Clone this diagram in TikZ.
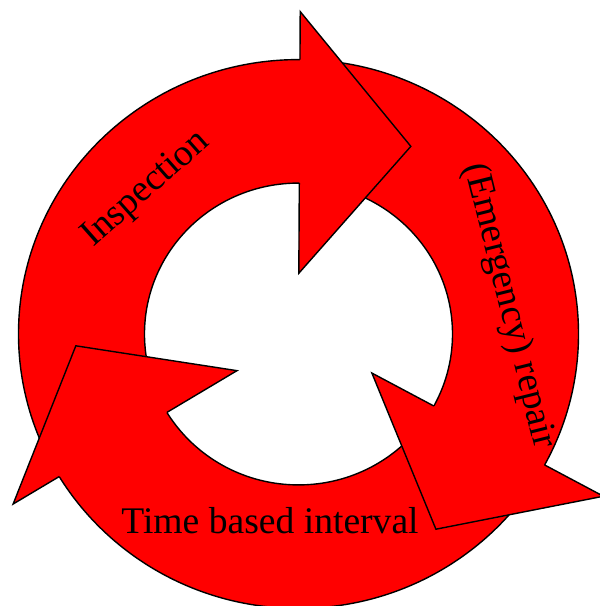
\documentclass[tikz,border=0pt]{standalone}
\usepackage{fontspec}
\setmainfont{Liberation Serif}
\begin{document}
\begin{tikzpicture}[x=1pt, y=1pt,
  ring/.style={fill=red, even odd rule},
  edge/.style={draw=black, line width=1.4pt, line join=miter},
  head/.style={fill=red},
  lbl/.style={font=\fontsize{37.6}{40}\selectfont, inner sep=0pt, anchor=base}
]
\useasboundingbox (0,0) rectangle (600,606);
\clip (0,0) rectangle (600,606);
\begin{scope}[shift={(298.5,272)}, yscale=0.98]
  \fill[ring] (0,0) circle[radius=280] (0,0) circle[radius=154];
  \draw[edge] (0,0) circle[radius=280];
  \draw[edge] (0,0) circle[radius=154];
  % arrow heads: base angle / inner corner / outer corner / tip angle / tip radius
  \foreach \b/\ri/\ro/\ta/\tr in {89.7/62/329/59.6/222, -28.5/83.5/347/-55.4/242, 211.3/72/334/183.1/223}{
    \fill[head] (\b:154) -- (\b:\ri) -- (\ta:\tr) -- (\b:\ro) -- (\b:280) -- cycle;
    \draw[edge] (\b:154) -- (\b:\ri) -- (\ta:\tr) -- (\b:\ro) -- (\b:280);
  }
\end{scope}
\node[lbl, rotate=41.5] (insp) at (152,410) {Inspection};
\node[lbl, rotate=-76] (repair) at (500,298) {(Emergency) repair};
\node[lbl] (interval) at (270,72) {Time based interval};
\end{tikzpicture}
\end{document}
